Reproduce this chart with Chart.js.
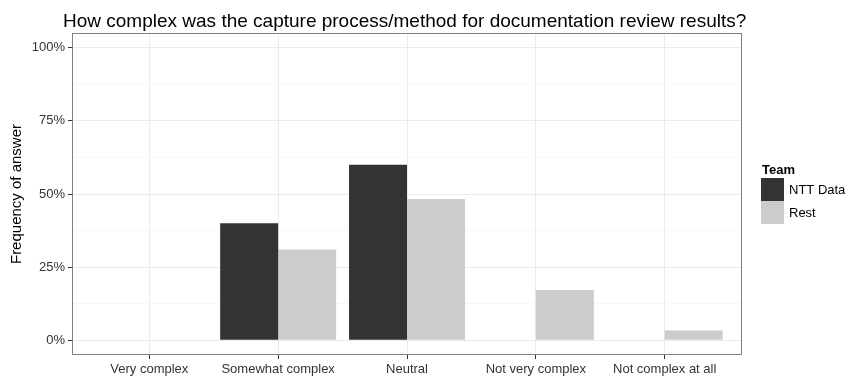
<!DOCTYPE html>
<html>
<head>
<meta charset="utf-8">
<script src="https://cdn.jsdelivr.net/npm/chart.js@4.4.0/dist/chart.umd.min.js"></script>
<style>
  body { margin: 0; background: #fff; }
  #wrap { width: 848px; height: 378px; }
</style>
</head>
<body>
<div id="wrap"><canvas id="chart" width="848" height="378"></canvas></div>
<script>
const categories = ['Very complex', 'Somewhat complex', 'Neutral', 'Not very complex', 'Not complex at all'];
const teams = ['NTT Data', 'Rest'];
const nttData = [0, 40, 60, 0, 0];
const rest = [0, 31.0, 48.3, 17.2, 3.4];
const yTicks = [0, 25, 50, 75, 100];
const yMinor = [12.5, 37.5, 62.5, 87.5];
const teamColors = ['#333333', '#cccccc'];

const titleText = 'How complex was the capture process/method for documentation review results?';
const FONT = '"Liberation Sans", Arial, Helvetica, sans-serif';

// panel border + title + legend (ggplot style)
const decor = {
  id: 'decor',
  afterDatasetsDraw(chart) {
    const {ctx, chartArea: a} = chart;
    ctx.save();
    ctx.strokeStyle = '#7f7f7f';
    ctx.lineWidth = 1;
    ctx.strokeRect(a.left + 0.5, a.top + 0.5, a.right - a.left - 1, a.bottom - a.top - 1);
    ctx.restore();
  },
  afterDraw(chart) {
    const {ctx} = chart;
    ctx.save();
    ctx.fillStyle = '#000';
    ctx.textBaseline = 'alphabetic';
    ctx.font = '19px ' + FONT;
    ctx.fillText(titleText, 63, 27);

    ctx.font = 'bold 13px ' + FONT;
    ctx.fillText('Team', 762, 174);
    ctx.font = '13px ' + FONT;
    ctx.textBaseline = 'middle';
    chart.data.datasets.forEach((ds, i) => {
      const y = 178 + i * 23;
      ctx.fillStyle = ds.backgroundColor;
      ctx.fillRect(761, y, 23, 23);
      ctx.fillStyle = '#000';
      ctx.fillText(ds.label, 789, y + 12);
    });
    ctx.restore();
  }
};

const toPoints = arr => arr.map((v, i) => ({x: i, y: v}));

new Chart(document.getElementById('chart').getContext('2d'), {
  type: 'bar',
  data: {
    datasets: [
      { label: teams[0], data: toPoints(nttData), backgroundColor: teamColors[0], borderWidth: 0 },
      { label: teams[1], data: toPoints(rest), backgroundColor: teamColors[1], borderWidth: 0 }
    ]
  },
  options: {
    responsive: false,
    devicePixelRatio: 1,
    animation: false,
    categoryPercentage: 0.9,
    barPercentage: 1.0,
    layout: { padding: { top: 33, right: 106, left: 0, bottom: 0 } },
    plugins: {
      legend: { display: false },
      tooltip: { enabled: false },
      title: { display: false }
    },
    scales: {
      x: {
        type: 'linear',
        min: -0.6,
        max: 4.6,
        offset: false,
        afterBuildTicks: s => { s.ticks = categories.map((c, i) => ({value: i})); },
        afterFit: s => { s.height = 23; },
        ticks: {
          autoSkip: false,
          maxRotation: 0,
          padding: 3,
          color: '#333333',
          font: { family: FONT, size: 13 },
          callback: v => categories[v]
        },
        grid: { offset: false, color: '#ebebeb', tickColor: '#333333', tickLength: 4 },
        border: { display: false }
      },
      y: {
        min: -5,
        max: 105,
        afterBuildTicks: s => {
          s.ticks = yTicks.concat(yMinor).sort((a, b) => a - b).map(v => ({value: v}));
        },
        afterFit: s => { s.width = 72; },
        ticks: {
          autoSkip: false,
          padding: 3,
          color: '#333333',
          font: { family: FONT, size: 13 },
          callback: v => yTicks.includes(v) ? v + '%' : ''
        },
        grid: {
          color: c => (c.tick && yTicks.includes(c.tick.value)) ? '#ebebeb' : '#f7f7f7',
          tickColor: c => (c.tick && yTicks.includes(c.tick.value)) ? '#333333' : 'rgba(0,0,0,0)',
          tickLength: 4
        },
        border: { display: false },
        title: {
          display: true,
          text: 'Frequency of answer',
          color: '#000',
          font: { family: FONT, size: 15 },
          padding: { top: 8, bottom: 4 }
        }
      }
    }
  },
  plugins: [decor]
});
</script>
</body>
</html>
